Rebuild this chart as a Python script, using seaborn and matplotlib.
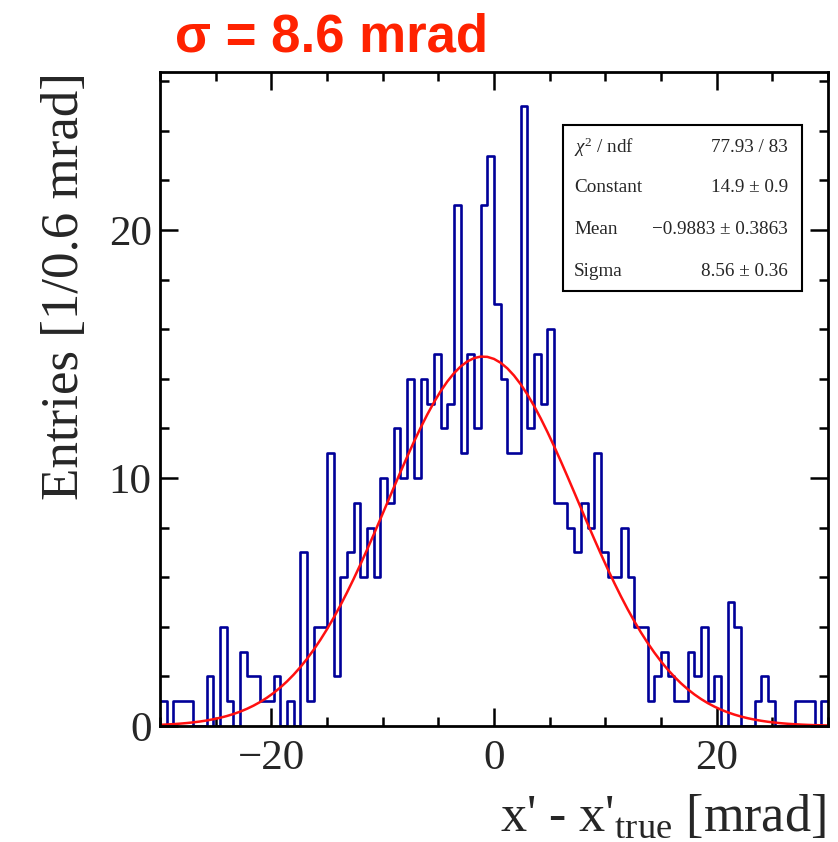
import numpy as np
import pandas as pd
import seaborn as sns
import matplotlib
matplotlib.use("Agg")
import matplotlib.pyplot as plt
from matplotlib.ticker import MultipleLocator, FixedLocator
from matplotlib.patches import Rectangle

# ---------------- data ----------------
counts = [1, 0, 1, 1, 1, 0, 0, 2, 0, 4,
          1, 0, 3, 2, 2, 1, 1, 2, 0, 1,
          0, 7, 1, 4, 4, 11, 2, 6, 7, 9,
          6, 8, 6, 10, 9, 12, 10, 14, 10, 14,
          13, 15, 12, 13, 21, 11, 15, 12, 21, 23,
          17, 14, 11, 11, 25, 12, 15, 13, 16, 9,
          9, 8, 7, 9, 8, 11, 7, 6, 6, 8,
          6, 4, 4, 1, 2, 3, 2, 1, 1, 3,
          2, 4, 1, 2, 0, 5, 4, 0, 0, 1,
          2, 1, 0, 0, 0, 1, 1, 1, 0, 1]
x_min, x_max = -30.0, 30.0

fit_constant = 14.9
fit_mean = -0.9883
fit_sigma = 8.56

stats_labels = [r"$\chi^{2}$ / ndf", "Constant", "Mean", "Sigma"]
stats_values = ["77.93 / 83", "14.9 \u00b1 0.9", "\u22120.9883 \u00b1 0.3863", "8.56 \u00b1 0.36"]

x_ticks = [-20, 0, 20]
y_ticks = [0, 10, 20]

title_text = "\u03c3 = 8.6 mrad"
x_label = r"x' - x'$_{\mathrm{true}}$ [mrad]"
y_label = "Entries [1/0.6 mrad]"

# ---------------- derived ----------------
nbins = len(counts)
edges = np.linspace(x_min, x_max, nbins + 1)
centers = 0.5 * (edges[:-1] + edges[1:])
df = pd.DataFrame({"x": centers, "n": counts})

xf = np.linspace(x_min, x_max, 101)
yf = fit_constant * np.exp(-0.5 * ((xf - fit_mean) / fit_sigma) ** 2)

# ---------------- style ----------------
sns.set_style("ticks")
plt.rcParams["font.family"] = ["Liberation Serif", "DejaVu Serif"]
plt.rcParams["mathtext.fontset"] = "custom"
plt.rcParams["mathtext.rm"] = "Liberation Serif"
plt.rcParams["mathtext.it"] = "Liberation Serif:italic"
plt.rcParams["mathtext.bf"] = "Liberation Serif:bold"

W, H = 838, 842
fig = plt.figure(figsize=(W / 100, H / 100), dpi=100)
L, R, T, B = 160, 828, 72, 726
ax = fig.add_axes([L / W, 1 - B / H, (R - L) / W, (B - T) / H])

sns.histplot(data=df, x="x", weights="n", bins=nbins, binrange=(x_min, x_max),
             element="step", fill=False, color="#000099", linewidth=1.9, ax=ax)
sns.lineplot(x=xf, y=yf, color="#ff1010", linewidth=1.8, ax=ax)

ax.set_xlim(x_min, x_max)
ax.set_ylim(0, (B - T) / 24.8)
ax.set_xlabel("")
ax.set_ylabel("")

ax.xaxis.set_major_locator(FixedLocator(x_ticks))
ax.xaxis.set_minor_locator(MultipleLocator(5))
ax.yaxis.set_major_locator(FixedLocator(y_ticks))
ax.yaxis.set_minor_locator(MultipleLocator(2))
ax.tick_params(which="major", direction="in", top=True, right=True,
               length=13, width=1.8, labelsize=31, color="black")
ax.tick_params(which="minor", direction="in", top=True, right=True,
               length=6.5, width=1.8, color="black")
ax.tick_params(axis="x", which="major", pad=10)
ax.tick_params(axis="y", which="major", pad=6)
for s in ax.spines.values():
    s.set_linewidth(2.0)
    s.set_color("black")

# axis titles
fig.text(826 / W, 1 - 831 / H, x_label, ha="right", va="baseline", fontsize=37.5)
fig.text(78 / W, 1 - T / H, y_label, rotation=90, rotation_mode="anchor",
         ha="right", va="baseline", fontsize=38.2)

# title
fig.text(175 / W, 1 - 52 / H, title_text, ha="left", va="baseline",
         fontsize=38, fontweight="bold", color="#ff2200",
         family=["Liberation Sans", "DejaVu Sans"])

# stats box
bx0, bx1, by0, by1 = 563, 802, 125, 291
fig.patches.append(Rectangle((bx0 / W, 1 - by1 / H), (bx1 - bx0) / W, (by1 - by0) / H,
                             transform=fig.transFigure, facecolor="white",
                             edgecolor="black", linewidth=1.5, zorder=5))
row_y = [147, 188, 230, 272]
for lab, val, yy in zip(stats_labels, stats_values, row_y):
    fig.text(574 / W, 1 - yy / H, lab, ha="left", va="center", fontsize=13.8, zorder=6)
    fig.text(788 / W, 1 - yy / H, val, ha="right", va="center", fontsize=13.8, zorder=6)

fig.savefig("out.png", dpi=100)
